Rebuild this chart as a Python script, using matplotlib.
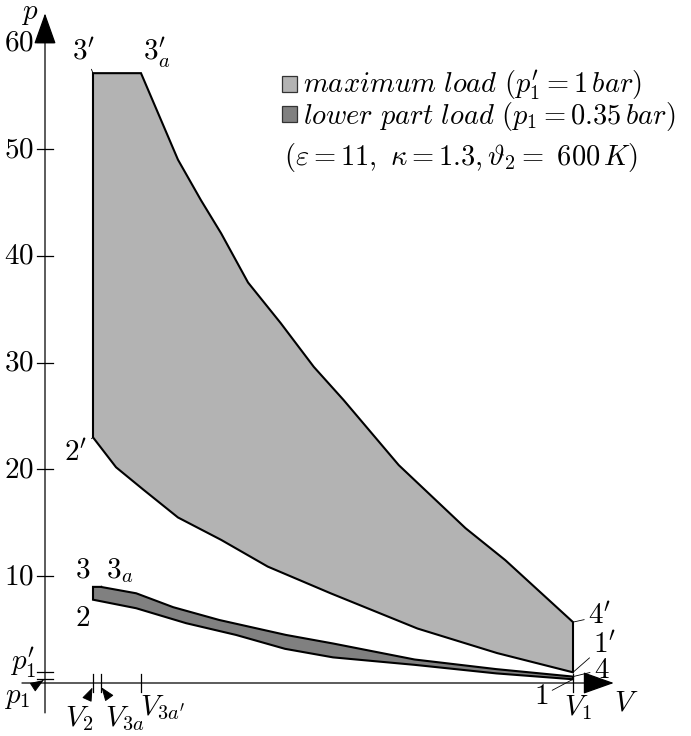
import numpy as np
import matplotlib.pyplot as plt
from matplotlib.patches import Rectangle

plt.rcParams["mathtext.fontset"] = "cm"
plt.rcParams["font.family"] = "serif"
plt.rcParams["font.serif"] = ["DejaVu Serif"]

# characteristic volumes (V2 = 1, epsilon = 11)
V2 = 1.0
V3a = 1.16
V3a_p = 2.0
V1 = 11.0
p1 = 0.35
p1_p = 1.0

# maximum load cycle (p1' = 1 bar)
comp_max_V = [1.0, 1.48, 2.05, 2.77, 3.67, 4.64, 5.95, 7.76, 9.42, 11.0]
comp_max_p = [23.0, 20.2, 18.1, 15.5, 13.4, 10.9, 8.4, 5.1, 2.8, 1.0]
exp_max_V = [2.0, 2.77, 3.25, 3.67, 4.23, 4.91, 5.60, 6.22, 7.37, 8.76, 9.59, 11.0]
exp_max_p = [57.1, 49.0, 45.2, 42.1, 37.5, 33.7, 29.6, 26.5, 20.4, 14.5, 11.5, 5.7]

# lower part load cycle (p1 = 0.35 bar)
comp_low_V = [1.0, 1.9, 2.94, 3.98, 5.0, 6.0, 7.7, 9.4, 11.0]
comp_low_p = [7.8, 7.0, 5.6, 4.5, 3.2, 2.4, 1.7, 0.9, 0.35]
exp_low_V = [1.16, 1.9, 2.67, 3.63, 5.02, 6.0, 7.7, 9.4, 11.0]
exp_low_p = [9.0, 8.4, 7.1, 5.9, 4.5, 3.7, 2.2, 1.3, 0.6]

y_ticks = [10, 20, 30, 40, 50, 60]

light = "#b3b3b3"
dark = "#808080"
fs = 21
fs_leg = 20.5

fig = plt.figure(figsize=(6.91, 7.36), dpi=100)
ax = fig.add_axes([0, 0, 1, 1])
ax.set_xlim(-45 / 48, (691 - 45) / 48)
ax.set_ylim((683 - 736) / 10.68, 683 / 10.68)
ax.axis("off")

# maximum load polygon: 1' -> 2' -> 3' -> 3a' -> 4' -> 1'
Vmax = comp_max_V[::-1] + [V2] + exp_max_V
pmax = comp_max_p[::-1] + [exp_max_p[0]] + exp_max_p
ax.fill(Vmax, pmax, facecolor=light, edgecolor="k", lw=1.5, joinstyle="miter", zorder=2)

# lower part load polygon: 1 -> 2 -> 3 -> 3a -> 4 -> 1
Vlow = comp_low_V[::-1] + [V2] + exp_low_V
plow = comp_low_p[::-1] + [exp_low_p[0]] + exp_low_p
ax.fill(Vlow, plow, facecolor=dark, edgecolor="k", lw=1.5, joinstyle="miter", zorder=3)

# axes with arrows
arw = dict(arrowstyle="-|>,head_length=0.9,head_width=0.32", mutation_scale=22,
           lw=0.9, color="k", shrinkA=0, shrinkB=0)
ax.annotate("", xy=(0, 62.7), xytext=(0, -2.8), arrowprops=arw, zorder=1)
ax.annotate("", xy=(11.85, 0), xytext=(-0.48, 0), arrowprops=arw, zorder=1)
ax.text(-0.33, 62.75, r"$p$", fontsize=fs, ha="center", va="center")
ax.text(12.1, -1.8, r"$V$", fontsize=fs, ha="center", va="center")

# y ticks
for t in y_ticks:
    ax.plot([-0.17, 0.17], [t, t], color="k", lw=0.9)
    ax.text(-0.22, t, r"$%d$" % t, fontsize=fs, ha="right", va="center")
for t in [p1, p1_p]:
    ax.plot([-0.17, 0.17], [t, t], color="k", lw=0.9)
ax.text(-0.45, 1.9, r"$p_1^{\prime}$", fontsize=fs, ha="center", va="center")
ax.annotate(r"$p_1$", xy=(0, p1), xytext=(-0.57, -1.3), fontsize=fs, ha="center", va="center",
            arrowprops=dict(arrowstyle="-|>,head_length=0.4,head_width=0.15", lw=0.7, color="k",
                            shrinkA=8, shrinkB=1))

# x ticks
for v in [V2, V3a, V3a_p, V1]:
    ax.plot([v, v], [-0.85, 0.85], color="k", lw=0.9)
ax.annotate(r"$V_2$", xy=(V2, -0.3), xytext=(0.7, -3.3), fontsize=fs, ha="center", va="center",
            arrowprops=dict(arrowstyle="-|>,head_length=0.4,head_width=0.15", lw=0.7, color="k",
                            shrinkA=6, shrinkB=1))
ax.annotate(r"$V_{3a}$", xy=(V3a, -0.3), xytext=(1.66, -3.4), fontsize=fs, ha="center", va="center",
            arrowprops=dict(arrowstyle="-|>,head_length=0.4,head_width=0.15", lw=0.7, color="k",
                            shrinkA=6, shrinkB=1))
ax.text(V3a_p + 0.45, -2.3, r"$V_{3a^{\prime}}$", fontsize=fs, ha="center", va="center")
ax.text(V1 + 0.1, -2.3, r"$V_1$", fontsize=fs, ha="center", va="center")

# point labels with leader lines
lead = dict(arrowstyle="-", lw=0.6, color="k", shrinkA=1, shrinkB=0)
pts = [
    ("3'", (V2, exp_max_p[0]), (-9, 22)),
    (r"$3_a^{\prime}$", (V3a_p, exp_max_p[0]), (16, 20)),
    ("2'", (V2, comp_max_p[0]), (-17, -15)),
    ("3", (V2, exp_low_p[0]), (-10, 17)),
    (r"$3_a$", (V3a, exp_low_p[0]), (19, 16)),
    ("2", (V2, comp_low_p[0]), (-10, -18)),
    ("4'", (V1, exp_max_p[-1]), (27, 6)),
    ("1'", (V1, comp_max_p[-1]), (32, 28)),
    ("4", (V1, exp_low_p[-1]), (29, 7)),
    ("1", (V1, comp_low_p[-1]), (-32, -17)),
]
for lab, xy, off in pts:
    if not lab.startswith("$"):
        lab = "$" + lab.replace("'", r"^{\prime}") + "$"
    ax.annotate(lab, xy=xy, xytext=off, textcoords="offset pixels", fontsize=fs,
                ha="center", va="center", arrowprops=lead, zorder=4)

# legend
ax.add_patch(Rectangle((4.94, 55.3), 0.31, 1.5, facecolor=light, edgecolor="#333333", lw=0.9))
ax.add_patch(Rectangle((4.94, 52.5), 0.31, 1.5, facecolor=dark, edgecolor="#333333", lw=0.9))
ax.text(5.38, 55.95, r"$maximum\ load\ (p_1^{\prime} = 1\,bar)$", fontsize=fs_leg, va="center")
ax.text(5.38, 53.05, r"$lower\ part\ load\ (p_1 = 0.35\,bar)$", fontsize=fs_leg, va="center")
ax.text(4.98, 49.2, r"$(\varepsilon = 11,\ \kappa = 1.3, \vartheta_2 =\ 600\,K)$", fontsize=fs_leg, va="center")

fig.savefig("out.png", dpi=100)
